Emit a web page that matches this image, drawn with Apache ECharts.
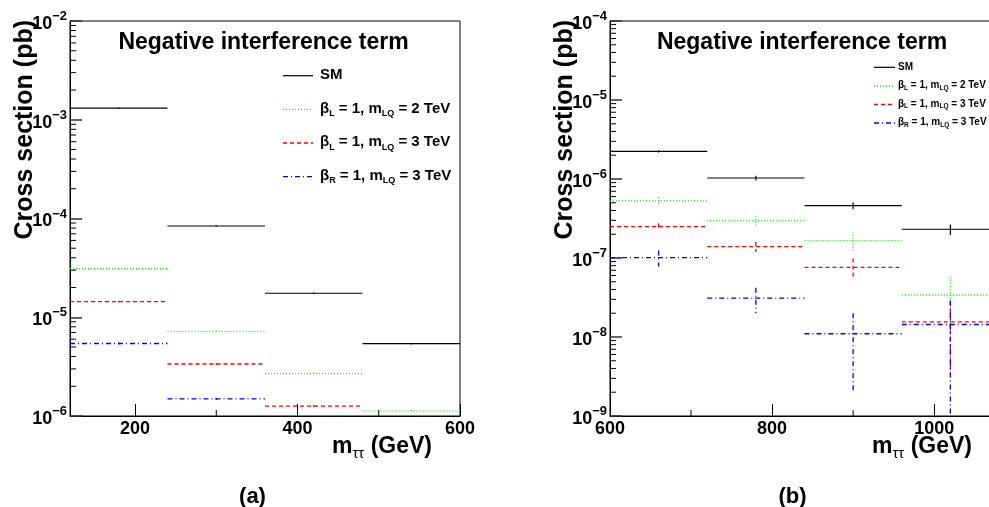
<!DOCTYPE html>
<html><head><meta charset="utf-8">
<script src="https://cdn.jsdelivr.net/npm/echarts@6/dist/echarts.min.js"></script>
<style>html,body{margin:0;padding:0;background:#fff}#c{width:989px;height:507px}</style>
</head><body><div id="c"></div>
<script>
// ---------- data ----------
const binEdgesA = [120, 240, 360, 480, 600];
const binEdgesB = [600, 720, 840, 960, 1080];

const smA      = [1.31e-3, 8.4e-5, 1.75e-5, 5.4e-6];
const smAErr   = [2.0e-5, 1.5e-6, 3.0e-7, 1.0e-7];
const gL2A     = [3.1e-5, 7.2e-6, 2.69e-6, 1.12e-6];
const gL2AErr  = [6e-7, 1.5e-7, 6e-8, 3e-8];
const rL3A     = [1.44e-5, 3.36e-6, 1.26e-6, null];
const rL3AErr  = [3e-7, 7e-8, 3e-8, null];
const bR3A     = [5.42e-6, 1.49e-6, null, null];
const bR3AErr  = [1.2e-7, 3.5e-8, null, null];

const smB      = [2.24e-6, 1.03e-6, 4.6e-7, 2.31e-7];
const smBErr   = [8e-8, 7e-8, 4.5e-8, 3.5e-8];
const gL2B     = [5.3e-7, 2.97e-7, 1.66e-7, 3.4e-8];
const gL2BErr  = [6e-8, 4.5e-8, 4.9e-8, 2.3e-8];
const rL3B     = [2.5e-7, 1.39e-7, 7.6e-8, 1.55e-8];
const rL3BErr  = [2.5e-8, 2e-8, 2.25e-8, 1.2e-8];
const bR3B     = [1.01e-7, 3.1e-8, 1.1e-8, 1.44e-8];
const bR3BErr  = [2.3e-8, 1.1e-8, 9e-9, 1.45e-8];

const seriesNames = ['SM', 'βL = 1, mLQ = 2 TeV', 'βL = 1, mLQ = 3 TeV', 'βR = 1, mLQ = 3 TeV'];
const legendTexts = ['{b|SM}',
  '{b|β}{s|L}{b| = 1, m}{s|LQ}{b| = 2 TeV}',
  '{b|β}{s|L}{b| = 1, m}{s|LQ}{b| = 3 TeV}',
  '{b|β}{s|R}{b| = 1, m}{s|LQ}{b| = 3 TeV}'];
const panelTitle = 'Negative interference term';
const captions = ['(a)', '(b)'];
const yAxisTitle = 'Cross section (pb)';
const xAxisTitle = '{m|m}{t|ττ}{m| (GeV)}';

const yRangeA = [1e-6, 1e-2];
const yRangeB = [1e-9, 1e-4];
const xMajorA = [200, 400, 600];
const xMinorA = [300, 500];
const xMajorB = [600, 800, 1000];
const xMinorB = [700, 900];
const minorMult = [2, 3, 4, 5, 6, 7, 8, 9];

// ---------- styling ----------
const FONT = "'Liberation Sans', Arial, Helvetica, sans-serif";
const styles = [
  {color: '#000000', dash: null, width: 1.2},
  {color: '#00ee00', dash: [1, 2], width: 1.3},
  {color: '#ff0000', dash: [4, 3], width: 1.3},
  {color: '#0000ff', dash: [5, 3, 1, 3], width: 1.3}
];

function binData(edges, vals, errs) {
  const out = [];
  vals.forEach((v, i) => { if (v != null) out.push([edges[i], edges[i + 1], v, errs[i]]); });
  return out;
}
function makeRender(st) {
  return function (params, api) {
    const xlo = api.value(0), xhi = api.value(1), v = api.value(2), e = api.value(3);
    const xc = (xlo + xhi) / 2;
    const a = api.coord([xlo, v]), b = api.coord([xhi, v]);
    const lo = (v - e) > 0 ? v - e : v * 1e-4;
    const t = api.coord([xc, v + e]), u = api.coord([xc, lo]);
    const s = {stroke: st.color, lineWidth: st.width, lineDash: st.dash, fill: null};
    return {type: 'group', children: [
      {type: 'line', shape: {x1: a[0], y1: a[1], x2: b[0], y2: b[1]}, style: Object.assign({}, s)},
      {type: 'line', shape: {x1: t[0], y1: t[1], x2: u[0], y2: u[1]}, style: Object.assign({}, s)}
    ]};
  };
}
function minorValues(range) {
  const out = [];
  for (let e = Math.round(Math.log10(range[0])); e < Math.round(Math.log10(range[1])); e++) {
    minorMult.forEach(m => out.push(m * Math.pow(10, e)));
  }
  return out;
}
function yTickRender(len) {
  return (params, api) => {
    const p = api.coord([api.value(0), api.value(1)]);
    return {type: 'line', shape: {x1: p[0], y1: p[1], x2: p[0] + len, y2: p[1]}, style: {stroke: '#000', lineWidth: 1}};
  };
}
function xTickRender(len) {
  return (params, api) => {
    const p = api.coord([api.value(0), api.value(1)]);
    return {type: 'line', shape: {x1: p[0], y1: p[1], x2: p[0], y2: p[1] - len}, style: {stroke: '#000', lineWidth: 1}};
  };
}

const grids = [
  {left: 70, top: 21, width: 390, height: 395, show: true, borderColor: '#000', borderWidth: 1, containLabel: false, outerBoundsMode: 'none'},
  {left: 610, top: 21, width: 389, height: 395, show: true, borderColor: '#000', borderWidth: 1, containLabel: false, outerBoundsMode: 'none'}
];

function xAxisOpt(gi, min, max, major, gap) {
  return {
    gridIndex: gi, type: 'value', min: min, max: max,
    axisLine: {show: true, onZero: false, lineStyle: {color: '#000', width: 1}},
    axisTick: {show: true, inside: true, length: 12, customValues: major, lineStyle: {color: '#000', width: 1}},
    axisLabel: {customValues: major, formatter: v => String(v), fontSize: 18, fontWeight: 'bold', fontFamily: FONT, color: '#000', margin: 4},
    splitLine: {show: false},
    name: xAxisTitle, nameLocation: 'end', nameGap: gap, nameMoveOverlap: false,
    nameTextStyle: {
      align: 'right', verticalAlign: 'top', padding: [19, 0, 0, 0], color: '#000',
      rich: {
        m: {fontSize: 23, fontWeight: 'bold', fontFamily: FONT, color: '#000', lineHeight: 26, verticalAlign: 'top'},
        t: {fontSize: 15, fontWeight: 'normal', fontFamily: FONT, color: '#000', lineHeight: 15, padding: [12, 0, 0, 0], verticalAlign: 'bottom'}
      }
    }
  };
}
function yAxisOpt(gi, range) {
  return {
    gridIndex: gi, type: 'log', logBase: 10, min: range[0], max: range[1],
    axisLine: {show: true, lineStyle: {color: '#000', width: 1}},
    axisTick: {show: true, inside: true, length: 12, lineStyle: {color: '#333', width: 1.5}},
    axisLabel: {
      margin: 3, showMinLabel: true, showMaxLabel: true,
      formatter: function (v) { const e = Math.round(Math.log10(v)); return '{b|10}{s|' + (e < 0 ? '\u2212' : '') + Math.abs(e) + '}'; },
      rich: {
        b: {fontSize: 18, fontWeight: 'bold', fontFamily: FONT, color: '#000', lineHeight: 24, verticalAlign: 'bottom', padding: [4, 0, 0, 0]},
        s: {fontSize: 13, fontWeight: 'bold', fontFamily: FONT, color: '#000', lineHeight: 13, verticalAlign: 'top', padding: [1, 0, 0, 0]}
      }
    },
    splitLine: {show: false},
    name: yAxisTitle, nameLocation: 'end', nameRotate: 90, nameGap: 1, nameMoveOverlap: false,
    nameTextStyle: {fontSize: 25, fontWeight: 'bold', fontFamily: FONT, color: '#000', align: 'right', verticalAlign: 'bottom', padding: [0, 0, 32, 0]}
  };
}

const panelData = [
  [[smA, smAErr], [gL2A, gL2AErr], [rL3A, rL3AErr], [bR3A, bR3AErr]],
  [[smB, smBErr], [gL2B, gL2BErr], [rL3B, rL3BErr], [bR3B, bR3BErr]]
];
const panelEdges = [binEdgesA, binEdgesB];
const panelY = [yRangeA, yRangeB];
const panelXmin = [binEdgesA[0], binEdgesB[0]];
const panelXminor = [xMinorA, xMinorB];

const series = [];
panelData.forEach((sets, gi) => {
  sets.forEach((pair, k) => {
    series.push({
      type: 'custom', name: seriesNames[k], xAxisIndex: gi, yAxisIndex: gi, clip: true, silent: true,
      encode: {x: [0, 1], y: 2},
      renderItem: makeRender(styles[k]),
      data: binData(panelEdges[gi], pair[0], pair[1])
    });
  });
  series.push({
    type: 'custom', name: 'yminor' + gi, xAxisIndex: gi, yAxisIndex: gi, silent: true, clip: false,
    encode: {x: 0, y: 1}, renderItem: yTickRender(6),
    data: minorValues(panelY[gi]).map(v => [panelXmin[gi], v])
  });
  series.push({
    type: 'custom', name: 'xminor' + gi, xAxisIndex: gi, yAxisIndex: gi, silent: true, clip: false,
    encode: {x: 0, y: 1}, renderItem: xTickRender(6),
    data: panelXminor[gi].map(v => [v, panelY[gi][0]])
  });
});

// legends (drawn as graphic)
const legendLayouts = [
  {x1: 283, x2: 313, tx: 320, ys: [75.7, 109.4, 143, 176.7], fs: 15, sfs: 9, lh: 17, spad: 12, cap: 8.3},
  {x1: 874, x2: 895, tx: 898, ys: [67.3, 86, 104.5, 123], fs: 10, sfs: 6.5, lh: 11, spad: 8, cap: 5.4}
];
const graphic = [];
legendLayouts.forEach(L => {
  const rich = {
    b: {fontSize: L.fs, fontWeight: 'bold', fontFamily: FONT, fill: '#000', lineHeight: L.lh, verticalAlign: 'top'},
    s: {fontSize: L.sfs, fontWeight: 'bold', fontFamily: FONT, fill: '#000', lineHeight: L.sfs, padding: [L.spad, 0, 0, 0], verticalAlign: 'bottom'}
  };
  styles.forEach((st, k) => {
    graphic.push({type: 'line', silent: true, shape: {x1: L.x1, y1: L.ys[k], x2: L.x2, y2: L.ys[k]},
      style: {stroke: st.color, lineWidth: st.width, lineDash: st.dash}});
    graphic.push({type: 'text', silent: true, x: L.tx, y: L.ys[k] - L.cap,
      style: {text: legendTexts[k], rich: rich, fill: '#000', fontSize: L.fs, fontWeight: 'bold', fontFamily: FONT, verticalAlign: 'top', align: 'left'}});
  });
});

const titleStyle = {fontSize: 23, fontWeight: 'bold', fontFamily: FONT, color: '#000'};
const capStyle = {fontSize: 22, fontWeight: 'bold', fontFamily: FONT, color: '#000'};

const option = {
  animation: false,
  backgroundColor: '#fff',
  title: [
    {text: panelTitle, left: 263.5, top: 31, textAlign: 'center', padding: 0, textStyle: titleStyle},
    {text: panelTitle, left: 802, top: 31, textAlign: 'center', padding: 0, textStyle: titleStyle},
    {text: captions[0], left: 252.5, top: 486, textAlign: 'center', padding: 0, textStyle: capStyle},
    {text: captions[1], left: 792.5, top: 486, textAlign: 'center', padding: 0, textStyle: capStyle}
  ],
  grid: grids,
  xAxis: [xAxisOpt(0, binEdgesA[0], binEdgesA[4], xMajorA, -28), xAxisOpt(1, binEdgesB[0], binEdgesB[4], xMajorB, -27)],
  yAxis: [yAxisOpt(0, yRangeA), yAxisOpt(1, yRangeB)],
  series: series,
  graphic: graphic
};
const chart = echarts.init(document.getElementById('c'), null, {renderer: 'canvas'});
chart.setOption(option);
</script></body></html>
